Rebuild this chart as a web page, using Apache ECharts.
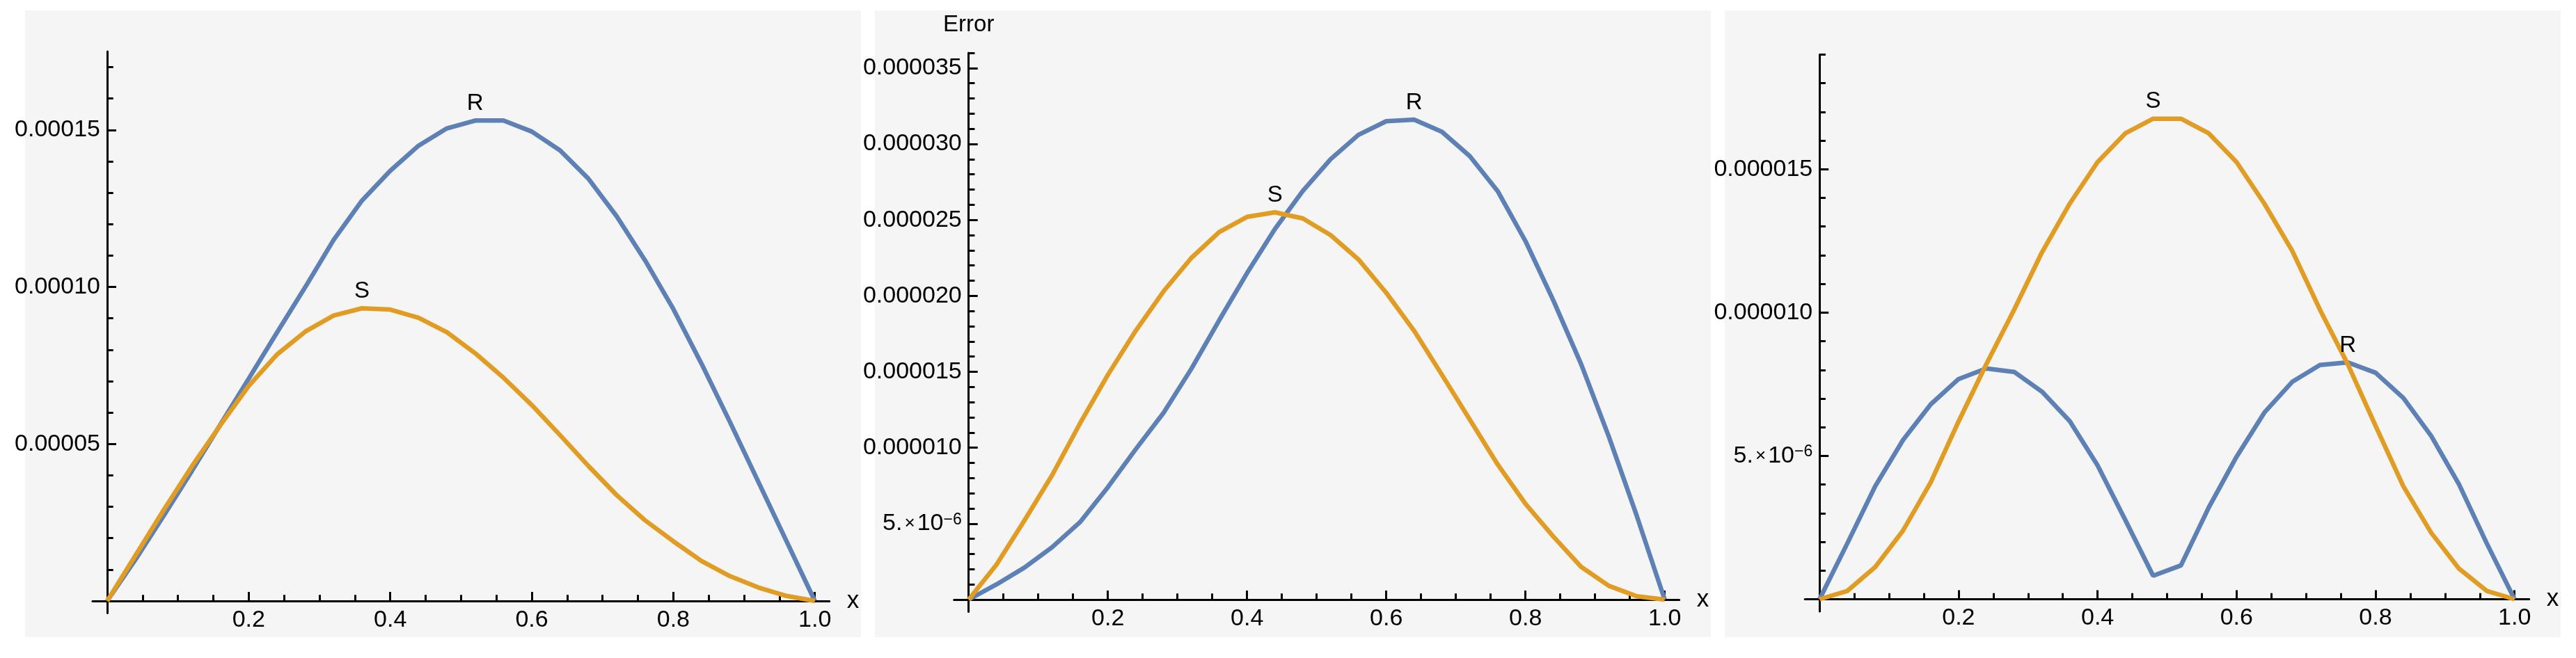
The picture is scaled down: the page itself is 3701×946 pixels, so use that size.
<!DOCTYPE html>
<html>
<head>
<meta charset="utf-8">
<title>Error R / S</title>
<script src="https://cdn.jsdelivr.net/npm/echarts@6/dist/echarts.min.js"></script>
<style>
  html, body { margin: 0; background: #fff; }
  .panel { position: absolute; top: 15px; width: 1201px; height: 901px; background: #f5f5f5; }
  #chart { position: absolute; left: 0; top: 0; width: 3701px; height: 946px; }
</style>
</head>
<body>
<div class="panel" style="left:36px"></div>
<div class="panel" style="left:1257px"></div>
<div class="panel" style="left:2478px"></div>
<div id="chart"></div>
<script>
// sample points shared by all three plots
const xs = [0, 0.04, 0.08, 0.12, 0.16, 0.2, 0.24, 0.28, 0.32, 0.36, 0.4, 0.44, 0.48,
  0.52, 0.56, 0.6, 0.64, 0.68, 0.72, 0.76, 0.8, 0.84, 0.88, 0.92, 0.96, 1.0]

// left plot
const r1 = [0, 1.32e-5, 2.72e-5, 4.15e-5, 5.62e-5, 7.08e-5, 8.55e-5, 10.0e-5, 11.5e-5, 12.75e-5,
  13.7e-5, 14.5e-5, 15.05e-5, 15.3e-5, 15.3e-5, 14.95e-5, 14.35e-5, 13.45e-5, 12.25e-5, 10.85e-5,
  9.3e-5, 7.55e-5, 5.7e-5, 3.8e-5, 1.9e-5, 0]
const s1 = [0, 1.45e-5, 2.9e-5, 4.3e-5, 5.6e-5, 6.85e-5, 7.85e-5, 8.58e-5, 9.09e-5, 9.32e-5,
  9.28e-5, 9.02e-5, 8.56e-5, 7.89e-5, 7.11e-5, 6.24e-5, 5.28e-5, 4.3e-5, 3.37e-5, 2.57e-5,
  1.9e-5, 1.27e-5, 0.79e-5, 0.43e-5, 0.16e-5, 0]
const yTicks1 = [0.00005, 0.0001, 0.00015]
const yLabels1 = ['0.00005', '0.00010', '0.00015']

// middle plot
const r2 = [0, 1.0e-6, 2.1e-6, 3.45e-6, 5.1e-6, 7.4e-6, 9.9e-6, 12.3e-6, 15.2e-6, 18.4e-6,
  21.5e-6, 24.4e-6, 26.9e-6, 29.0e-6, 30.6e-6, 31.5e-6, 31.6e-6, 30.8e-6, 29.2e-6, 26.9e-6,
  23.6e-6, 19.7e-6, 15.5e-6, 10.7e-6, 5.5e-6, 0]
const s2 = [0, 2.3e-6, 5.2e-6, 8.2e-6, 11.6e-6, 14.8e-6, 17.7e-6, 20.3e-6, 22.5e-6, 24.2e-6,
  25.2e-6, 25.5e-6, 25.1e-6, 24.0e-6, 22.4e-6, 20.2e-6, 17.7e-6, 14.8e-6, 11.85e-6, 8.9e-6,
  6.3e-6, 4.15e-6, 2.15e-6, 0.9e-6, 0.22e-6, 0]
const yTicks2 = [0.000005, 0.00001, 0.000015, 0.00002, 0.000025, 0.00003, 0.000035]
const yLabels2 = ['5.×10^−6', '0.000010', '0.000015', '0.000020', '0.000025', '0.000030', '0.000035']

// right plot
const r3 = [0, 1.95e-6, 3.94e-6, 5.55e-6, 6.8e-6, 7.68e-6, 8.05e-6, 7.93e-6, 7.24e-6, 6.21e-6,
  4.67e-6, 2.76e-6, 0.82e-6, 1.18e-6, 3.2e-6, 4.97e-6, 6.51e-6, 7.58e-6, 8.17e-6, 8.26e-6,
  7.9e-6, 7.02e-6, 5.7e-6, 4.01e-6, 1.95e-6, 0]
const s3 = [0, 0.29e-6, 1.12e-6, 2.39e-6, 4.08e-6, 6.2e-6, 8.2e-6, 10.1e-6, 12.1e-6, 13.8e-6,
  15.25e-6, 16.25e-6, 16.76e-6, 16.76e-6, 16.25e-6, 15.25e-6, 13.8e-6, 12.16e-6, 10.1e-6, 8.2e-6,
  6.05e-6, 3.94e-6, 2.32e-6, 1.07e-6, 0.29e-6, 0]
const yTicks3 = [0.000005, 0.00001, 0.000015]
const yLabels3 = ['5.×10^−6', '0.000010', '0.000015']

const xTicks = [0.2, 0.4, 0.6, 0.8, 1.0]
const xLabels = ['0.2', '0.4', '0.6', '0.8', '1.0']

const FONT = "'Liberation Sans', Arial, sans-serif"
const BLUE = '#5e81b5'
const ORANGE = '#e19c24'
const PAGE_W = 3701
const PAGE_H = 946
const EXT_X = 21    // axis line overshoot past 0 and 1, px
const EXT_Y = 17.5  // y axis overshoot below 0, px
const TICK_FONT = 34

const steps = (step, max) => {
  const out = []
  for (let k = 1; k * step <= max * (1 + 1e-9); k++) out.push(+(k * step).toPrecision(6))
  return out
}

// plot frame in page pixels: where x=0, x=1, y=0 and y=max sit
const panels = [
  { r: r1, s: s1, rAt: 0.52, sAt: 0.36, yMax: 0.000175, yMinor: 0.00001,
    yTicks: yTicks1, yLabels: yLabels1, yName: '',
    plotLeft: 154, plotRight: 1170.7, plotTop: 74, plotBottom: 864 },
  { r: r2, s: s2, rAt: 0.64, sAt: 0.44, yMax: 0.000036, yMinor: 0.000001,
    yTicks: yTicks2, yLabels: yLabels2, yName: 'Error',
    plotLeft: 1391.7, plotRight: 2391.7, plotTop: 76, plotBottom: 862 },
  { r: r3, s: s3, rAt: 0.76, sAt: 0.48, yMax: 0.000019, yMinor: 0.000001,
    yTicks: yTicks3, yLabels: yLabels3, yName: '',
    plotLeft: 2614.2, plotRight: 3612.7, plotTop: 78.4, plotBottom: 861.5 }
]

const pickLabel = (ticks, labels, v) => {
  const i = ticks.findIndex((t) => Math.abs(t - v) < t * 1e-6)
  if (i < 0) return ''
  const txt = labels[i]
  if (txt.includes('^')) {
    const [base, exp] = txt.split('^')
    const [mant, pow] = base.split('×')
    return `{m|${mant}}{t|×}{m|${pow}}{e|${exp}}`
  }
  return txt
}

const lineData = (vals, at, name) => xs.map((x, i) => {
  const item = { value: [x, vals[i]] }
  if (Math.abs(x - at) < 1e-9) {
    item.label = { show: true, formatter: name, position: 'top', distance: 8,
      color: '#000', fontFamily: FONT, fontSize: 33 }
  }
  return item
})

const axisBlack = { color: '#000', width: 3 }

const grids = []
const xAxes = []
const yAxes = []
const series = []

panels.forEach((p, gi) => {
  const unitX = p.plotRight - p.plotLeft
  const unitY = (p.plotBottom - p.plotTop) / p.yMax
  const xMin = -EXT_X / unitX
  const xMax = 1 + EXT_X / unitX
  const yMin = -EXT_Y / unitY
  const ax = 2 * gi
  const zero = { show: true, onZero: true, onZeroAxisIndex: ax, lineStyle: axisBlack }
  const hiddenLine = { show: false, onZero: true, onZeroAxisIndex: ax }

  grids.push({
    left: p.plotLeft - EXT_X,
    right: PAGE_W - p.plotRight - EXT_X,
    top: p.plotTop,
    bottom: PAGE_H - p.plotBottom - EXT_Y,
    containLabel: false,
    outerBoundsMode: 'none'
  })

  xAxes.push({
    gridIndex: gi, type: 'value', min: xMin, max: xMax, position: 'bottom',
    axisLine: zero,
    axisTick: { show: true, inside: true, length: 13, customValues: xTicks, lineStyle: axisBlack },
    axisLabel: {
      show: true, customValues: xTicks, margin: -7, color: '#000', fontFamily: FONT, fontSize: TICK_FONT,
      formatter: (v) => pickLabel(xTicks, xLabels, v)
    },
    splitLine: { show: false },
    name: 'x', nameLocation: 'end', nameGap: 25,
    nameTextStyle: { color: '#000', fontFamily: FONT, fontSize: 35, verticalAlign: 'middle' }
  }, {
    gridIndex: gi, type: 'value', min: xMin, max: xMax, position: 'bottom',
    axisLine: hiddenLine,
    axisTick: { show: true, inside: true, length: 8.7, customValues: steps(0.05, 1), lineStyle: axisBlack },
    axisLabel: { show: false },
    splitLine: { show: false }
  })

  yAxes.push({
    gridIndex: gi, type: 'value', min: yMin, max: p.yMax, position: 'left',
    axisLine: zero,
    axisTick: { show: true, inside: true, length: 13, customValues: p.yTicks, lineStyle: axisBlack },
    axisLabel: {
      show: true, customValues: p.yTicks, margin: -11, color: '#000', fontFamily: FONT, fontSize: TICK_FONT,
      formatter: (v) => pickLabel(p.yTicks, p.yLabels, v),
      rich: {
        m: { fontFamily: FONT, fontSize: TICK_FONT, color: '#000' },
        t: { fontFamily: FONT, fontSize: 26, color: '#000', padding: [0, 3, 0, 3] },
        e: { fontFamily: FONT, fontSize: 23, color: '#000', verticalAlign: 'top' }
      }
    },
    splitLine: { show: false },
    name: p.yName, nameLocation: 'end', nameGap: 24,
    nameTextStyle: { color: '#000', fontFamily: FONT, fontSize: 33, align: 'center' }
  }, {
    gridIndex: gi, type: 'value', min: yMin, max: p.yMax, position: 'left',
    axisLine: hiddenLine,
    axisTick: { show: true, inside: true, length: 8.7, customValues: steps(p.yMinor, p.yMax), lineStyle: axisBlack },
    axisLabel: { show: false },
    splitLine: { show: false }
  })

  series.push({
    name: 'R', type: 'line', xAxisIndex: ax, yAxisIndex: ax,
    data: lineData(p.r, p.rAt, 'R'),
    showSymbol: true, symbol: 'circle', symbolSize: 0,
    lineStyle: { color: BLUE, width: 6.5 }, itemStyle: { color: BLUE }
  }, {
    name: 'S', type: 'line', xAxisIndex: ax, yAxisIndex: ax,
    data: lineData(p.s, p.sAt, 'S'),
    showSymbol: true, symbol: 'circle', symbolSize: 0,
    lineStyle: { color: ORANGE, width: 6.5 }, itemStyle: { color: ORANGE }
  })
})

const chart = echarts.init(document.getElementById('chart'), null, { renderer: 'canvas' })
chart.setOption({
  animation: false,
  grid: grids,
  xAxis: xAxes,
  yAxis: yAxes,
  series
})

window.addEventListener('resize', () => chart.resize())
</script>
</body>
</html>
